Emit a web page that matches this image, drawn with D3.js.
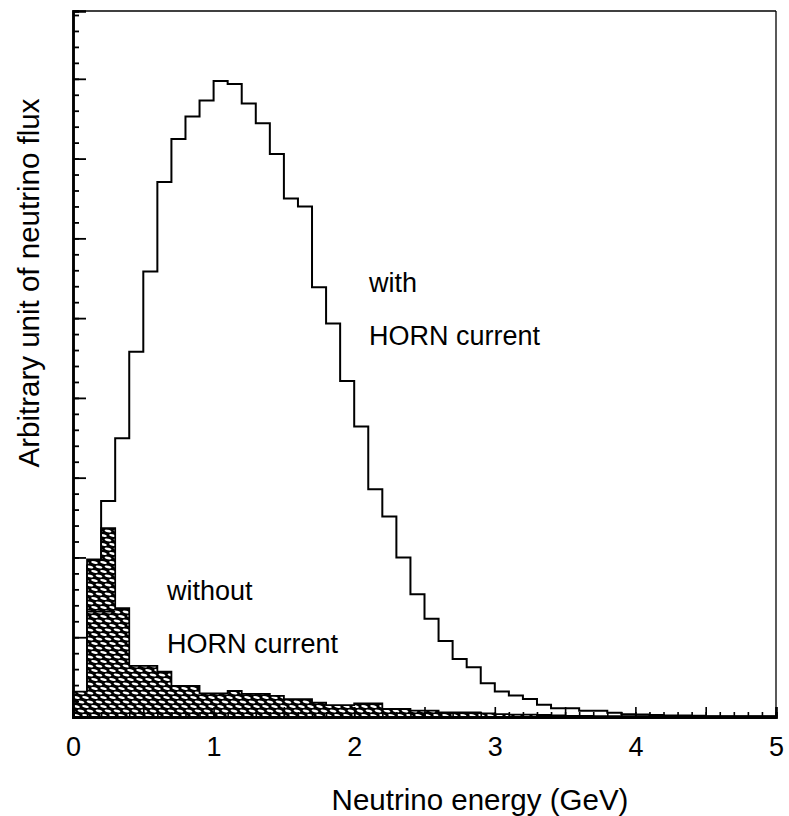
<!DOCTYPE html>
<html>
<head>
<meta charset="utf-8">
<script src="https://cdn.jsdelivr.net/npm/d3@7/dist/d3.min.js"></script>
<style>
  html, body { margin: 0; padding: 0; background: #fff; }
  svg { display: block; }
  text { font-family: "Liberation Sans", Arial, Helvetica, sans-serif; fill: #000; }
</style>
</head>
<body>
<div id="chart"></div>
<script>
// ---- data (bins of 0.1 GeV from 0 to 5 GeV) ----
const binWidth = 0.1;
const xTickLabels = [0, 1, 2, 3, 4, 5];
const withHorn = [
  0.30, 1.90, 2.708, 3.495, 4.577, 5.584, 6.705, 7.244, 7.527, 7.728,
  7.971, 7.934, 7.690, 7.444, 7.056, 6.499, 6.399, 5.388, 4.932, 4.213,
  3.640, 2.855, 2.512, 1.998, 1.539, 1.233, 0.953, 0.727, 0.623, 0.423,
  0.320, 0.270, 0.225, 0.153, 0.109, 0.109, 0.079, 0.079, 0.054, 0.034,
  0.030, 0.025, 0.020, 0.020, 0.015, 0.010, 0.010, 0.010, 0.010, 0.010
];
const withoutHorn = [
  0.317, 1.977, 2.366, 1.363, 0.640, 0.640, 0.568, 0.390, 0.390, 0.297,
  0.297, 0.326, 0.290, 0.290, 0.265, 0.225, 0.225, 0.180, 0.150, 0.150,
  0.172, 0.172, 0.100, 0.100, 0.080, 0.080, 0.058, 0.058, 0.058, 0.045,
  0.035, 0.030, 0.030, 0.025, 0.020, 0.015, 0.015, 0.012, 0.012, 0.010,
  0.010, 0.010, 0.008, 0.008, 0.008, 0.006, 0.006, 0.006, 0.006, 0.006
];
// inner contour visible inside the hatched area (second overlaid component)
const withoutHornInner = [
  null, 1.32, 1.32, null, null, null, null, null, null, null
];
const labelsWith = ["with", "HORN current"];
const labelsWithout = ["without", "HORN current"];
const xTitle = "Neutrino energy (GeV)";
const yTitle = "Arbitrary unit of neutrino flux";

// ---- layout ----
const W = 789, H = 816;
const m = { left: 73, right: 13, top: 11, bottom: 99 };
const x = d3.scaleLinear().domain([0, 5]).range([m.left, W - m.right]);
const y = d3.scaleLinear().domain([0, 8.85]).range([H - m.bottom, m.top]);
const FONT_LABEL = 27, FONT_TICK = 27, FONT_TITLE = 29.5;
const FAM = '"Liberation Sans", Arial, Helvetica, sans-serif';

const svg = d3.select("#chart").append("svg")
  .attr("width", W).attr("height", H);

// hatch pattern: black mesh with white lozenges
const defs = svg.append("defs");
const pw = 9, ph = 9;
const pat = defs.append("pattern")
  .attr("id", "hatch")
  .attr("patternUnits", "userSpaceOnUse")
  .attr("width", pw).attr("height", ph);
pat.append("rect").attr("width", pw).attr("height", ph).attr("fill", "#000");
[[0, 0], [pw, 0], [0, ph], [pw, ph], [pw / 2, ph / 2]].forEach(([cx, cy]) => {
  pat.append("ellipse").attr("cx", cx).attr("cy", cy).attr("rx", 3.4).attr("ry", 1.25)
    .attr("transform", `rotate(14,${cx},${cy})`).attr("fill", "#fff");
});

function toPts(arr) {
  const pts = arr.map((v, i) => ({ x0: i * binWidth, v }));
  pts.push({ x0: arr.length * binWidth, v: arr[arr.length - 1] });
  return pts;
}

// open histogram (with HORN current)
const line = d3.line().x(d => x(d.x0)).y(d => y(d.v)).curve(d3.curveStepAfter);
svg.append("path")
  .attr("d", line(toPts(withHorn)))
  .attr("fill", "none").attr("stroke", "#000").attr("stroke-width", 2);

// hatched histogram (without HORN current)
const area = d3.area().x(d => x(d.x0)).y0(y(0)).y1(d => y(d.v)).curve(d3.curveStepAfter);
svg.append("path")
  .attr("d", area(toPts(withoutHorn)))
  .attr("fill", "url(#hatch)").attr("stroke", "#000").attr("stroke-width", 1.8);

// inner contour
const innerPts = [];
withoutHornInner.forEach((v, i) => {
  if (v != null) { innerPts.push({ x0: i * binWidth, v }); innerPts.push({ x0: (i + 1) * binWidth, v }); }
});
svg.append("path")
  .attr("d", d3.line().x(d => x(d.x0)).y(d => y(d.v))(innerPts))
  .attr("fill", "none").attr("stroke", "#000").attr("stroke-width", 1.6);

// ---- axes ----
const gx = svg.append("g").attr("transform", `translate(0,${y(0)})`);
gx.append("g").call(d3.axisBottom(x).tickValues(d3.range(0, 51).map(i => i / 10)).tickSize(-5).tickFormat(""));
gx.append("g").call(d3.axisBottom(x).tickValues(d3.range(0, 11).map(i => i / 2)).tickSize(-10).tickFormat(""));
gx.append("g").call(d3.axisBottom(x).tickValues(xTickLabels).tickSize(0).tickPadding(20).tickFormat(d3.format("d")));
gx.selectAll(".domain").attr("stroke-width", 2.5);
gx.selectAll(".tick line").attr("stroke-width", 1.6);
gx.selectAll("text").style("font-size", FONT_TICK + "px").style("font-family", FAM);

const gy = svg.append("g").attr("transform", `translate(${x(0)},0)`);
gy.append("g").call(d3.axisLeft(y).tickValues(d3.range(0, 45).map(i => i / 5)).tickSize(-6).tickFormat(""));
gy.append("g").call(d3.axisLeft(y).tickValues(d3.range(0, 9)).tickSize(-13).tickFormat(""));
gy.selectAll(".domain").attr("stroke-width", 2.5);
gy.selectAll(".tick line").attr("stroke-width", 1.8);

// frame top & right
svg.append("line").attr("x1", x(0)).attr("x2", x(5)).attr("y1", y(8.85)).attr("y2", y(8.85))
  .attr("stroke", "#000").attr("stroke-width", 1.3);
svg.append("line").attr("x1", x(5)).attr("x2", x(5)).attr("y1", y(8.85)).attr("y2", y(0))
  .attr("stroke", "#000").attr("stroke-width", 1.3);

// ---- labels ----
const lab = (tx, ty, s) => svg.append("text").attr("x", tx).attr("y", ty)
  .style("font-size", FONT_LABEL + "px").text(s);
lab(369, 292, labelsWith[0]);
lab(369, 345, labelsWith[1]);
lab(167, 600, labelsWithout[0]);
lab(167, 653, labelsWithout[1]);

svg.append("text").attr("x", 480).attr("y", 810)
  .attr("text-anchor", "middle").style("font-size", FONT_TITLE + "px").text(xTitle);
svg.append("text").attr("transform", `translate(39,283) rotate(-90)`)
  .attr("text-anchor", "middle").style("font-size", FONT_TITLE + "px").text(yTitle);
</script>
</body>
</html>
